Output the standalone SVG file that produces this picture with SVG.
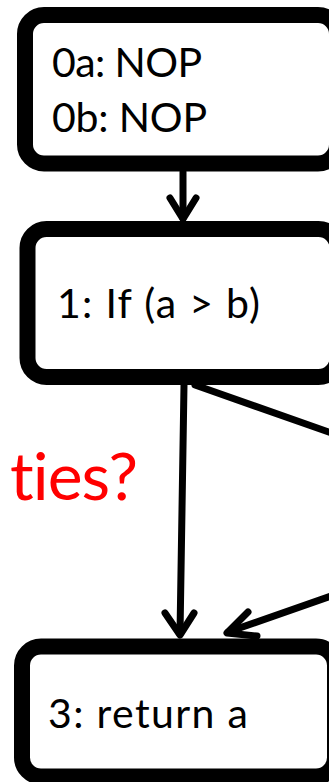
<svg xmlns="http://www.w3.org/2000/svg" width="329" height="782" viewBox="0 0 329 782">
<style>
.box{fill:#fff;stroke:#000;stroke-width:16}
.lbl{font-family:Lato,"Open Sans","Liberation Sans",sans-serif;font-size:41px;fill:#000;font-variant-ligatures:none}
.edge{fill:none;stroke:#000;stroke-width:7;stroke-linecap:round;stroke-linejoin:round}
.red{font-family:Lato,"Open Sans","Liberation Sans",sans-serif;font-size:66px;fill:#ff0000;font-variant-ligatures:none}
</style>
<rect x="0" y="0" width="329" height="782" fill="#fff"/>
<g id="edges">
<path class="edge" d="M183 172 L183 218"/>
<path class="edge" d="M170 198 L183 219 L196 198"/>
<path class="edge" d="M184 385 L180 634"/>
<path class="edge" d="M165 613 L180 635 L194 613"/>
<path class="edge" d="M195 385 L340 436"/>
<path class="edge" d="M340 593 L228 632"/>
<path class="edge" d="M248 612 L227 633 L257 636"/>
</g>
<g id="node0">
<rect class="box" x="25" y="15" width="312" height="148.5" rx="19"/>
<text class="lbl" x="52" y="77" textLength="150" lengthAdjust="spacing">0a: NOP</text>
<text class="lbl" x="52" y="132" textLength="155" lengthAdjust="spacing">0b: NOP</text>
</g>
<g id="node1">
<rect class="box" x="27.5" y="229" width="310" height="148" rx="19"/>
<text class="lbl" x="57" y="318" textLength="203" lengthAdjust="spacing">1: If (a &gt; b)</text>
</g>
<g id="node3">
<rect class="box" x="22" y="646.5" width="313" height="130" rx="19"/>
<text class="lbl" x="48" y="728" textLength="200" lengthAdjust="spacing">3: return a</text>
</g>
<text class="red" x="10" y="500" textLength="128" lengthAdjust="spacing">ties?</text>
</svg>
